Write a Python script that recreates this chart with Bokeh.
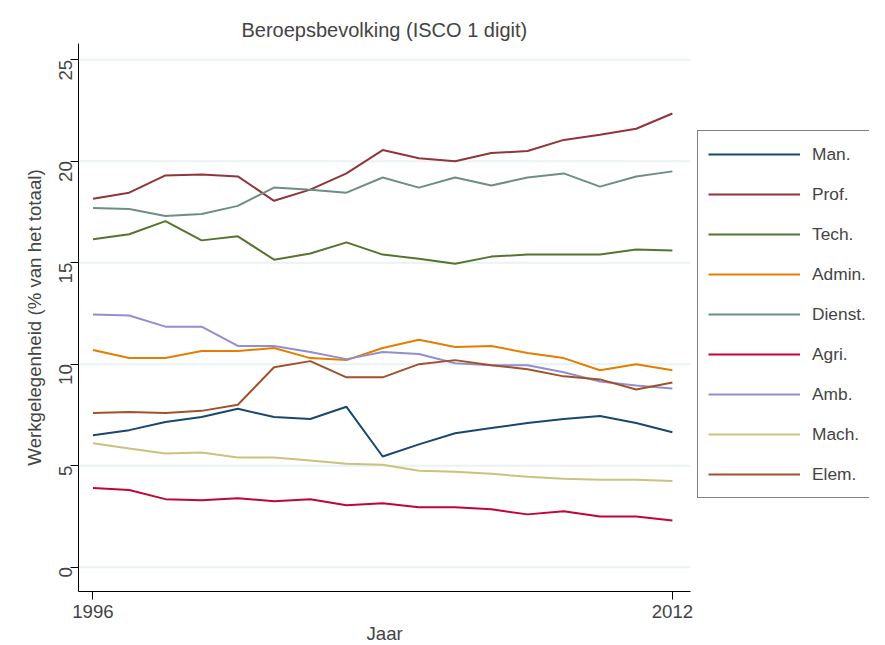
from bokeh.plotting import figure
from bokeh.models import Legend, LegendItem, Range1d, FixedTicker, Title
from bokeh.embed import file_html
from bokeh.resources import INLINE

years = list(range(1996, 2013))
names = ["Man.", "Prof.", "Tech.", "Admin.", "Dienst.", "Agri.", "Amb.", "Mach.", "Elem."]
colors = ["#1a476f", "#90353b", "#55752f", "#e37e00", "#6e8e84",
          "#c10534", "#938dd2", "#cac27e", "#a0522d"]
yticks = [0, 5, 10, 15, 20, 25]

man = [6.5, 6.75, 7.15, 7.4, 7.8, 7.4, 7.3, 7.9, 5.45, 6.05, 6.6, 6.85, 7.1, 7.3, 7.45, 7.1, 6.65]
prof = [18.15, 18.45, 19.3, 19.35, 19.25, 18.05, 18.6, 19.4, 20.55, 20.15, 20.0, 20.4, 20.5, 21.05, 21.3, 21.6, 22.35]
tech = [16.15, 16.4, 17.05, 16.1, 16.3, 15.15, 15.45, 16.0, 15.4, 15.2, 14.95, 15.3, 15.4, 15.4, 15.4, 15.65, 15.6]
admin = [10.7, 10.3, 10.3, 10.65, 10.65, 10.8, 10.3, 10.2, 10.8, 11.2, 10.85, 10.9, 10.55, 10.3, 9.7, 10.0, 9.7]
dienst = [17.7, 17.65, 17.3, 17.4, 17.8, 18.7, 18.6, 18.45, 19.2, 18.7, 19.2, 18.8, 19.2, 19.4, 18.75, 19.25, 19.5]
agri = [3.9, 3.8, 3.35, 3.3, 3.4, 3.25, 3.35, 3.05, 3.15, 2.95, 2.95, 2.85, 2.6, 2.75, 2.5, 2.5, 2.3]
amb = [12.45, 12.4, 11.85, 11.85, 10.9, 10.9, 10.6, 10.25, 10.6, 10.5, 10.05, 9.95, 9.95, 9.6, 9.15, 8.95, 8.8]
mach = [6.1, 5.85, 5.6, 5.65, 5.4, 5.4, 5.25, 5.1, 5.05, 4.75, 4.7, 4.6, 4.45, 4.35, 4.3, 4.3, 4.25]
elem = [7.6, 7.65, 7.6, 7.7, 8.0, 9.85, 10.15, 9.35, 9.35, 10.0, 10.2, 9.95, 9.75, 9.4, 9.25, 8.75, 9.1]
series = [man, prof, tech, admin, dienst, agri, amb, mach, elem]

fw = 791
x0, x1 = 1995.6, 2012.5
xmax = x0 + (x1 - x0) * fw / 612

p = figure(frame_width=fw, frame_height=548, output_backend="svg", toolbar_location=None,
           y_axis_label="Werkgelegenheid (% van het totaal)",
           min_border_left=78, min_border_top=43, min_border_right=0, min_border_bottom=0)
p.x_range = Range1d(x0, xmax)
p.y_range = Range1d(-1.2, 25.8)
p.outline_line_color = None

p.add_layout(Title(text="Beroepsbevolking (ISCO 1 digit)", align="left", offset=163,
                   text_font="Liberation Sans", text_font_style="normal",
                   text_font_size="15pt", standoff=6), "above")

# gridlines only under the data part of the frame
p.segment(x0=[x0] * len(yticks), x1=[x1] * len(yticks), y0=yticks, y1=yticks,
          line_color="#eaf2f3", line_width=2)

items = []
for name, col, vals in zip(names, colors, series):
    r = p.line(years, vals, line_color=col, line_width=2)
    items.append(LegendItem(label=name, renderers=[r]))

leg = Legend(items=items, location=(619, 93), border_line_color="black",
             border_line_width=1.5, label_text_font="Liberation Sans",
             label_text_font_size="13pt", glyph_width=92, glyph_height=26,
             label_standoff=12, spacing=14, padding=10, margin=0,
             background_fill_alpha=1.0)
p.add_layout(leg, "center")

p.xaxis.ticker = FixedTicker(ticks=[1996, 2012])
p.xaxis.bounds = (x0, x1)
p.yaxis.ticker = FixedTicker(ticks=yticks)
for ax in (p.xaxis, p.yaxis):
    ax.axis_label_text_font = "Liberation Sans"
    ax.axis_label_text_font_style = "normal"
    ax.axis_label_text_font_size = "14pt"
    ax.major_label_text_font = "Liberation Sans"
    ax.major_label_text_font_size = "14pt"
    ax.minor_tick_line_color = None
    ax.axis_line_color = "black"
    ax.major_tick_line_color = "black"
    ax.major_tick_out = 8
    ax.major_tick_in = 0
p.yaxis.major_label_orientation = 1.5708
p.add_layout(Title(text="Jaar", align="left", offset=288, text_font="Liberation Sans",
                   text_font_style="normal", text_font_size="14pt", standoff=0), "below")
p.xgrid.grid_line_color = None
p.ygrid.grid_line_color = None

open("out.html", "w").write(file_html(p, INLINE))
